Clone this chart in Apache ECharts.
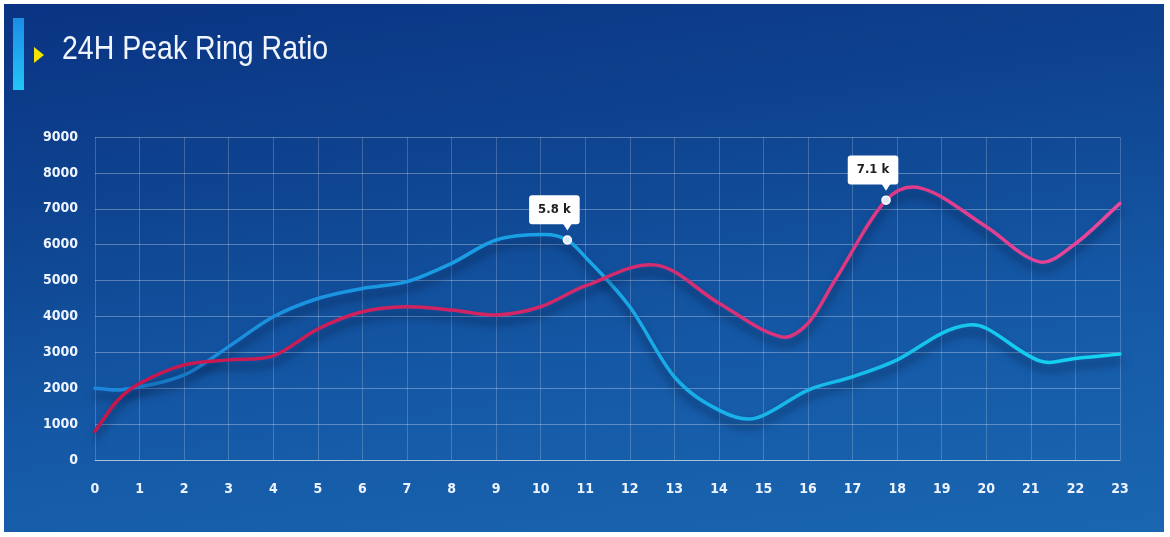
<!DOCTYPE html>
<html>
<head>
<meta charset="utf-8">
<script src="https://cdn.jsdelivr.net/npm/echarts@6/dist/echarts.min.js"></script>
<style>
  html, body { margin: 0; padding: 0; background: #ffffff; }
  #wrap { position: relative; width: 1170px; height: 537px; overflow: hidden; background: #ffffff; }
  #panel {
    position: absolute; left: 4px; top: 4px; width: 1160px; height: 528px;
    background: linear-gradient(172deg, #0a3483 0%, #0e438f 30%, #1559a6 65%, #1a66b1 100%);
  }
  #chart { position: absolute; left: 0; top: 0; width: 1170px; height: 537px; }
</style>
</head>
<body>
<div id="wrap">
  <div id="panel"></div>
  <div id="chart"></div>
</div>
<script>
// ---- data (hour, value) ----
var chartTitle = '24H Peak Ring Ratio';
var blueHours  = [0, 0.6, 2, 3, 4, 5, 6, 7, 8, 9, 10.1, 10.6, 11, 12, 13, 14, 14.8, 16, 17, 18, 19, 19.6, 20, 21.2, 22, 23];
var blueValues = [2000, 1960, 2370, 3160, 3990, 4500, 4780, 4970, 5480, 6130, 6280, 6130, 5660, 4270, 2320, 1390, 1160, 1950, 2320, 2790, 3530, 3760, 3670, 2760, 2830, 2950];
var redHours   = [0, 0.5, 1, 2, 3, 4, 5, 6, 7, 8, 9, 10, 11, 12.6, 14, 15.4, 16, 16.6, 17.75, 18.55, 20, 21.2, 22, 23];
var redValues  = [800, 1650, 2130, 2650, 2790, 2900, 3650, 4130, 4270, 4180, 4040, 4270, 4850, 5430, 4370, 3430, 3810, 5000, 7240, 7570, 6500, 5520, 6030, 7150];
var xRange = [0, 23];
var yRange = [0, 9000];
var highlightHours  = [10.6, 17.75];
var highlightValues = [6130, 7240];
var highlightTexts  = ['5.8 k', '7.1 k'];

function pairs(xs, vals) { return xs.map(function (h, i) { return [h, vals[i]]; }); }

var labelFont = "'DejaVu Sans Condensed', 'DejaVu Sans', sans-serif";

// smooth curve (cardinal / Catmull-Rom, x-based) through points mapped by the chart's own scales
function splineRenderer(xs, vals, strokeColor) {
  return function (params, api) {
    if (params.dataIndex !== 0) return null;
    var p = xs.map(function (h, i) { return api.coord([h, vals[i]]); });
    var n = p.length;
    var m = [];
    for (var i = 0; i < n; i++) {
      var a = p[Math.max(i - 1, 0)], b = p[Math.min(i + 1, n - 1)];
      m.push((b[1] - a[1]) / (b[0] - a[0]));
    }
    var d = 'M' + p[0][0] + ' ' + p[0][1];
    for (var j = 0; j < n - 1; j++) {
      var dx = (p[j + 1][0] - p[j][0]) / 3;
      d += ' C' + (p[j][0] + dx) + ' ' + (p[j][1] + m[j] * dx) + ' ' +
           (p[j + 1][0] - dx) + ' ' + (p[j + 1][1] - m[j + 1] * dx) + ' ' +
           p[j + 1][0] + ' ' + p[j + 1][1];
    }
    return {
      type: 'path',
      shape: { pathData: d },
      style: {
        fill: 'none', stroke: strokeColor, lineWidth: 3.5, lineCap: 'round', lineJoin: 'round',
        shadowColor: 'rgba(0,10,40,0.55)', shadowBlur: 8, shadowOffsetY: 7
      }
    };
  };
}

var blueStroke = new echarts.graphic.LinearGradient(0, 0, 1, 0, [
  { offset: 0, color: '#1b86dc' }, { offset: 0.5, color: '#19a6e6' }, { offset: 1, color: '#14d6f0' }]);
var redStroke = new echarts.graphic.LinearGradient(0, 0, 1, 0, [
  { offset: 0, color: '#c8154a' }, { offset: 0.5, color: '#d42a6c' }, { offset: 1, color: '#e8479c' }]);

var highlightData = highlightHours.map(function (h, i) { return [h, highlightValues[i], highlightTexts[i]]; });

var chart = echarts.init(document.getElementById('chart'), null, { renderer: 'canvas' });
chart.setOption({
  backgroundColor: 'transparent',
  animation: false,
  graphic: [
    {
      type: 'rect', left: 13, top: 18, z: 10,
      shape: { width: 11, height: 72 },
      style: { fill: new echarts.graphic.LinearGradient(0, 0, 0, 1, [
        { offset: 0, color: '#1b8de6' }, { offset: 1, color: '#22c6f6' }]) }
    },
    {
      type: 'polygon', z: 10,
      shape: { points: [[34, 47], [44, 55], [34, 63]] },
      style: { fill: '#f5e400' }
    },
    {
      type: 'text', z: 10, x: 62, y: 50, scaleY: 1.16, originX: 0, originY: 0,
      style: {
        text: chartTitle, fill: '#f0f5ff',
        font: "normal 28.5px 'Liberation Sans', Arial, sans-serif",
        textAlign: 'left', textVerticalAlign: 'middle', verticalAlign: 'middle'
      }
    }
  ],
  grid: { left: 95, right: 50, top: 137, bottom: 77, containLabel: false },
  xAxis: {
    type: 'value', min: xRange[0], max: xRange[1], interval: 1,
    axisLine: { show: true, lineStyle: { color: 'rgba(255,255,255,0.45)', width: 1 } },
    axisTick: { show: false },
    splitLine: { show: true, lineStyle: { color: 'rgba(255,255,255,0.2)', width: 1 } },
    axisLabel: { color: '#eef4ff', fontSize: 14, margin: 22, fontFamily: labelFont, fontWeight: 'bold' }
  },
  yAxis: {
    type: 'value', min: yRange[0], max: yRange[1], interval: 1000,
    axisLine: { show: false },
    axisTick: { show: false },
    splitLine: { show: true, lineStyle: { color: 'rgba(255,255,255,0.3)', width: 1 } },
    axisLabel: { color: '#eef4ff', fontSize: 14, margin: 17, fontFamily: labelFont, fontWeight: 'bold',
      formatter: function (v) { return String(v); } }
  },
  series: [
    {
      name: 'A', type: 'custom', z: 3, silent: true, clip: false,
      encode: { x: 0, y: 1 },
      data: pairs(blueHours, blueValues),
      renderItem: splineRenderer(blueHours, blueValues, blueStroke)
    },
    {
      name: 'B', type: 'custom', z: 3, silent: true, clip: false,
      encode: { x: 0, y: 1 },
      data: pairs(redHours, redValues),
      renderItem: splineRenderer(redHours, redValues, redStroke)
    },
    {
      name: 'pointer', type: 'scatter', z: 5, silent: true,
      data: highlightData,
      symbol: 'triangle', symbolRotate: 180, symbolSize: [9, 7], symbolOffset: [0, -13],
      itemStyle: { color: '#ffffff', opacity: 1 }
    },
    {
      name: 'peak', type: 'scatter', z: 6, silent: true,
      data: highlightData,
      symbol: 'circle', symbolSize: 8,
      itemStyle: { color: '#dce8f6', borderColor: '#ffffff', borderWidth: 1.5, opacity: 1 },
      label: {
        show: true, position: 'top', distance: 11, offset: [-13, 0],
        formatter: function (p) { return p.value[2]; },
        backgroundColor: '#ffffff', borderRadius: 3, padding: [7, 9, 7, 9],
        color: '#1e1e1e', fontSize: 13, fontWeight: 'bold', lineHeight: 15,
        fontFamily: "'DejaVu Sans Condensed', 'DejaVu Sans', sans-serif"
      }
    }
  ]
});
</script>
</body>
</html>
